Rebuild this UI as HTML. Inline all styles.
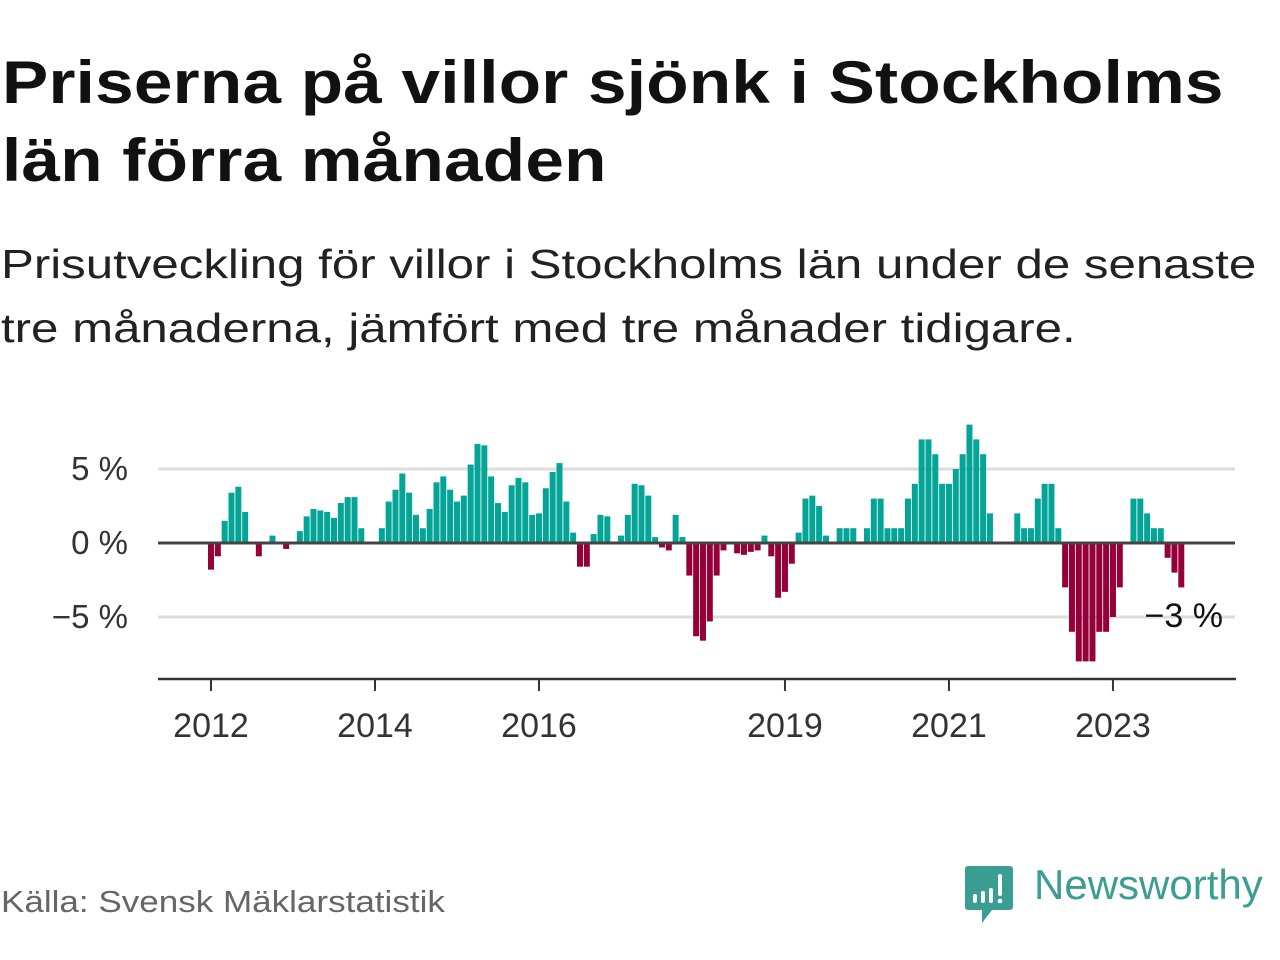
<!DOCTYPE html>
<html><head><meta charset="utf-8"><style>
body{margin:0;width:1280px;height:960px;background:#fff;font-family:"Liberation Sans",sans-serif;overflow:hidden;position:relative}
#title{position:absolute;left:2px;top:44px;font-size:60px;font-weight:bold;line-height:78px;color:#111;letter-spacing:0.2px;transform:scaleX(1.155);transform-origin:0 0;white-space:nowrap}
#sub{position:absolute;left:1px;top:232px;font-size:41px;line-height:64px;color:#222;transform:scaleX(1.2);transform-origin:0 0;white-space:nowrap}
#src{position:absolute;left:1px;top:884px;font-size:31px;color:#666;transform:scaleX(1.13);transform-origin:0 0;white-space:nowrap}
#logotext{position:absolute;left:1034px;top:861px;font-size:42px;color:#3a9e93}
svg{position:absolute;left:0;top:0}
</style></head><body>
<div id="title">Priserna på villor sjönk i Stockholms<br>län förra månaden</div>
<div id="sub">Prisutveckling för villor i Stockholms län under de senaste<br>tre månaderna, jämfört med tre månader tidigare.</div>
<svg id="chart" width="1280" height="960"></svg>
<div id="src">Källa: Svensk Mäklarstatistik</div>
<svg id="logo" width="52" height="62" style="left:964px;top:864px">
<path d="M4 2h42a3 3 0 0 1 3 3v38a3 3 0 0 1-3 3H28l-10 13v-13H4a3 3 0 0 1-3-3V5a3 3 0 0 1 3-3z" fill="#3a9e93"/>
<rect x="9" y="30" width="4" height="9" rx="2" fill="#fff"/><rect x="17" y="27" width="4" height="12" rx="2" fill="#fff"/><rect x="25" y="24" width="4" height="15" rx="2" fill="#fff"/><rect x="34" y="10" width="4" height="22" rx="2" fill="#fff"/><circle cx="36" cy="37" r="2.3" fill="#fff"/>
</svg>
<div id="logotext">Newsworthy</div>
<script>
const values=[-1.8,-0.9,1.5,3.4,3.8,2.1,0,-0.9,0,0.5,0,-0.4,0,0.8,1.8,2.3,2.2,2.1,1.7,2.7,3.1,3.1,1.0,0,0,1.0,2.8,3.6,4.7,3.4,1.9,1.0,2.3,4.1,4.5,3.6,2.8,3.2,5.3,6.7,6.6,4.5,2.7,2.1,3.9,4.4,4.1,1.9,2.0,3.7,4.8,5.4,2.8,0.7,-1.6,-1.6,0.6,1.9,1.8,0,0.5,1.9,4.0,3.9,3.2,0.4,-0.3,-0.5,1.9,0.4,-2.2,-6.3,-6.6,-5.3,-2.2,-0.5,0,-0.7,-0.8,-0.6,-0.5,0.5,-0.9,-3.7,-3.3,-1.4,0.7,3.0,3.2,2.5,0.5,0,1.0,1.0,1.0,0,1.0,3.0,3.0,1.0,1.0,1.0,3.0,4.0,7.0,7.0,6.0,4.0,4.0,5.0,6.0,8.0,7.0,6.0,2.0,0,0,0,2.0,1.0,1.0,3.0,4.0,4.0,1.0,-3.0,-6.0,-8.0,-8.0,-8.0,-6.0,-6.0,-5.0,-3.0,0,3.0,3.0,2.0,1.0,1.0,-1.0,-2.0,-3.0];
const startYear=2012;
const yTicks=[5,0,-5];
const yTickLabels=["5 %","0 %","\u22125 %"];
const xTickYears=[2012,2014,2016,2019,2021,2023];
const lastLabel="\u22123 %";
const NS="http://www.w3.org/2000/svg";
const svg=document.getElementById('chart');
const x=i=>211+i*6.833;
const y=v=>543-v*14.8;
function el(t,a){const e=document.createElementNS(NS,t);for(const k in a)e.setAttribute(k,a[k]);svg.appendChild(e);return e;}
yTicks.forEach((t,k)=>{
  if(t!==0){const g=el('line',{x1:158,x2:1235,y1:y(t),y2:y(t),stroke:'#ddd','stroke-width':3});
  
  }
  const tx=el('text',{x:128,y:y(t)+11,'text-anchor':'end','font-size':33,fill:'#333','font-family':'Liberation Sans, sans-serif'});
  tx.textContent=yTickLabels[k];
  
  
});
values.forEach((v,i)=>{
  if(v===0)return;
  const r=el('rect',{x:x(i)-3,width:6,y:Math.min(y(v),y(0)),height:Math.abs(y(v)-y(0)),fill:v>0?'#04a597':'#960038'});
  
  
});
const z=el('line',{x1:158,x2:1235,y1:y(0),y2:y(0),stroke:'#444','stroke-width':3});


const ax=el('line',{x1:158,x2:1236,y1:679,y2:679,stroke:'#333','stroke-width':2.5});


xTickYears.forEach(yr=>{
  const xi=x((yr-startYear)*12);
  const t=el('line',{x1:xi,x2:xi,y1:679,y2:691,stroke:'#333','stroke-width':2});
  
  
  const tx=el('text',{x:xi,y:737,'text-anchor':'middle','font-size':34,fill:'#333','font-family':'Liberation Sans, sans-serif'});
  tx.textContent=yr;
  
  
});
const ll=el('text',{x:1223,y:627,'text-anchor':'end','font-size':34,fill:'#111','font-family':'Liberation Sans, sans-serif'});
ll.textContent=lastLabel;


</script>
</body></html>
